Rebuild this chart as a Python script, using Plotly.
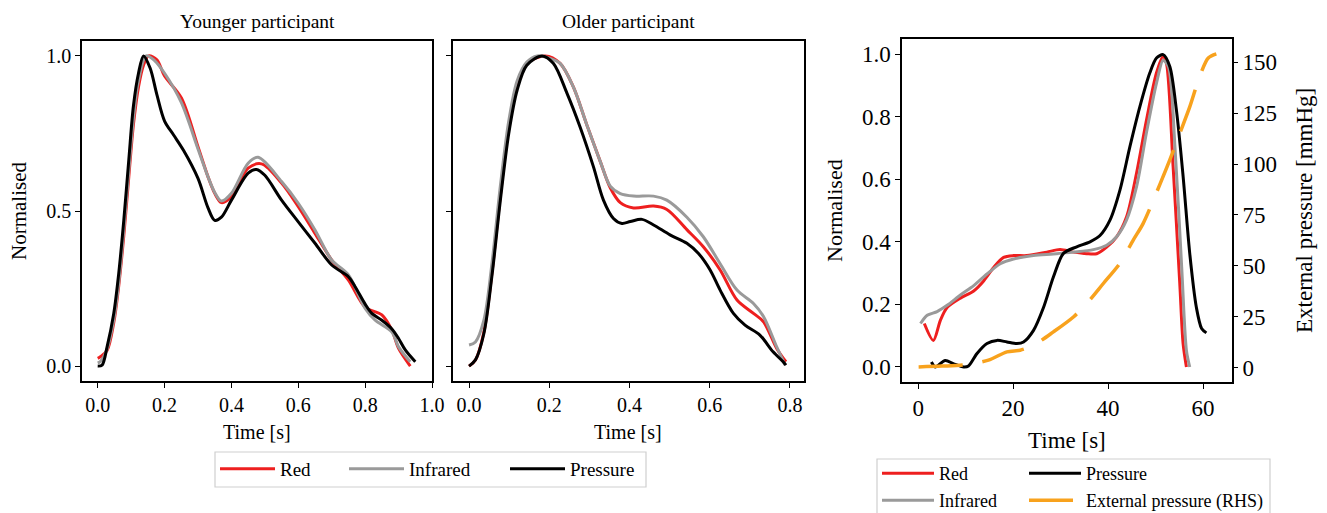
import plotly.graph_objects as go

W, H = 1327, 513

# ---------------- Data: Younger participant ----------------
young_red_t = [0.0, 0.008, 0.028, 0.048, 0.063, 0.078, 0.093, 0.107, 0.122, 0.137, 0.152, 0.177, 0.2, 0.25,
               0.3, 0.33, 0.35, 0.37, 0.4, 0.45, 0.49, 0.55, 0.6, 0.65, 0.7, 0.75, 0.8, 0.85, 0.88, 0.9, 0.935]
young_red_v = [0.025, 0.03, 0.05, 0.14, 0.26, 0.42, 0.61, 0.78, 0.9, 0.97, 1.0, 0.987, 0.935, 0.865,
               0.707, 0.61, 0.557, 0.527, 0.546, 0.638, 0.652, 0.59, 0.514, 0.428, 0.342, 0.277, 0.19, 0.165,
               0.116, 0.057, 0.0]
young_ir_t = [0.0, 0.008, 0.028, 0.048, 0.063, 0.078, 0.093, 0.107, 0.122, 0.145, 0.17, 0.2, 0.25, 0.3,
              0.33, 0.35, 0.37, 0.4, 0.45, 0.48, 0.55, 0.6, 0.65, 0.7, 0.75, 0.8, 0.83, 0.88, 0.9, 0.935]
young_ir_v = [0.01, 0.015, 0.055, 0.15, 0.27, 0.44, 0.63, 0.8, 0.92, 1.0, 0.985, 0.944, 0.85, 0.70,
              0.61, 0.56, 0.532, 0.557, 0.654, 0.673, 0.595, 0.525, 0.439, 0.342, 0.294, 0.186, 0.148, 0.11,
              0.062, 0.014]
young_pr_t = [0.0, 0.013, 0.028, 0.048, 0.063, 0.078, 0.093, 0.107, 0.122, 0.137, 0.157, 0.177, 0.2, 0.227,
              0.257, 0.3, 0.33, 0.35, 0.37, 0.4, 0.45, 0.475, 0.5, 0.55, 0.6, 0.65, 0.7, 0.75, 0.77, 0.8,
              0.82, 0.85, 0.88, 0.9, 0.92, 0.95]
young_pr_v = [0.0, 0.003, 0.062, 0.17, 0.30, 0.47, 0.665, 0.84, 0.944, 1.0, 0.96, 0.875, 0.79, 0.745,
              0.695, 0.605, 0.51, 0.47, 0.48, 0.535, 0.622, 0.634, 0.615, 0.535, 0.465, 0.396, 0.326, 0.288,
              0.256, 0.2, 0.17, 0.148, 0.12, 0.089, 0.052, 0.014]

# ---------------- Data: Older participant ----------------
old_red_t = [0.0, 0.016, 0.037, 0.057, 0.078, 0.099, 0.12, 0.144, 0.19, 0.227, 0.26, 0.293, 0.327, 0.352,
             0.377, 0.41, 0.46, 0.493, 0.543, 0.584, 0.626, 0.668, 0.709, 0.734, 0.767, 0.79]
old_red_v = [0.0, 0.02, 0.11, 0.30, 0.55, 0.77, 0.91, 0.975, 1.0, 0.976, 0.90, 0.78, 0.66, 0.575,
             0.527, 0.51, 0.516, 0.505, 0.44, 0.385, 0.31, 0.213, 0.17, 0.143, 0.057, 0.014]
old_ir_t = [0.0, 0.016, 0.037, 0.057, 0.078, 0.099, 0.12, 0.144, 0.17, 0.195, 0.227, 0.26, 0.293, 0.327,
            0.352, 0.377, 0.41, 0.46, 0.493, 0.543, 0.584, 0.626, 0.668, 0.709, 0.734, 0.767, 0.788]
old_ir_v = [0.068, 0.078, 0.148, 0.33, 0.58, 0.79, 0.92, 0.98, 1.0, 0.995, 0.976, 0.90, 0.78, 0.66,
            0.58, 0.556, 0.548, 0.548, 0.535, 0.48, 0.417, 0.33, 0.245, 0.202, 0.16, 0.062, 0.003]
old_pr_t = [0.0, 0.016, 0.037, 0.057, 0.078, 0.099, 0.12, 0.144, 0.182, 0.21, 0.244, 0.277, 0.31, 0.335,
            0.36, 0.381, 0.402, 0.431, 0.46, 0.501, 0.543, 0.572, 0.601, 0.626, 0.659, 0.688, 0.725, 0.758,
            0.783, 0.79]
old_pr_v = [0.0, 0.02, 0.105, 0.29, 0.534, 0.75, 0.89, 0.97, 1.0, 0.976, 0.88, 0.77, 0.643, 0.535,
            0.476, 0.46, 0.466, 0.473, 0.455, 0.423, 0.396, 0.363, 0.31, 0.245, 0.17, 0.132, 0.1, 0.046,
            0.014, 0.003]

# ---------------- Data: Cuff inflation ----------------
cuff_red_t = [1.3, 3.2, 4.7, 6.1, 8.9, 11.7, 13.8, 15.9, 18.0, 20.1, 22.9, 27.1, 29.9, 32.7, 35.5, 37.6,
              39.7, 41.8, 43.9, 46.0, 48.1, 50.2, 51.6, 52.3, 53.7, 55.1, 55.8, 56.5]
cuff_red_v = [0.139, 0.085, 0.15, 0.19, 0.22, 0.243, 0.275, 0.318, 0.35, 0.356, 0.356, 0.367, 0.375, 0.367,
              0.362, 0.362, 0.383, 0.416, 0.48, 0.62, 0.79, 0.94, 0.993, 0.97, 0.64, 0.267, 0.075, 0.0]
cuff_ir_t = [0.5, 1.9, 4.0, 6.1, 8.9, 11.7, 14.5, 17.3, 20.1, 24.3, 28.5, 32.7, 36.9, 39.7, 41.8, 43.9,
             46.0, 48.1, 50.2, 51.6, 52.7, 54.1, 55.5, 56.5, 57.2]
cuff_ir_v = [0.139, 0.165, 0.177, 0.197, 0.23, 0.26, 0.297, 0.33, 0.345, 0.356, 0.361, 0.367, 0.375, 0.389,
             0.416, 0.47, 0.576, 0.75, 0.907, 0.98, 0.96, 0.70, 0.32, 0.053, 0.0]
cuff_pr_t = [2.8, 3.6, 5.7, 7.5, 9.6, 10.6, 12.4, 14.5, 16.6, 18.7, 20.8, 22.2, 24.3, 26.4, 28.5, 30.6,
             33.4, 36.2, 38.3, 40.4, 42.5, 44.6, 46.7, 48.8, 50.2, 51.6, 53.0, 54.4, 55.8, 57.2, 58.6,
             59.7, 60.7]
cuff_pr_v = [0.016, 0.0, 0.021, 0.01, 0.0, 0.003, 0.043, 0.075, 0.085, 0.08, 0.075, 0.08, 0.117, 0.19,
             0.288, 0.363, 0.384, 0.40, 0.42, 0.469, 0.565, 0.704, 0.832, 0.94, 0.987, 0.998, 0.96, 0.82,
             0.61, 0.363, 0.19, 0.123, 0.109]
cuff_ext_t = [0.1, 5.0, 10.3, 14.8, 18.7, 21.5, 24.3, 28.5, 32.7, 35.5, 39.0, 42.5, 45.3, 47.4, 51.0,
              53.0, 55.1, 57.2, 59.3, 61.1, 62.8]
cuff_ext_v = [0.5, 0.9, 1.6, 3.8, 7.9, 8.7, 11.1, 17.7, 25.0, 31.6, 41.4, 51.3, 62.7, 70.9, 90.5,
              102.0, 115.0, 128.0, 143.0, 152.0, 154.0]

RED = "#ee1f1f"
GREY = "#9a9a9a"
BLACK = "#000000"
ORANGE = "#f8a21d"
FONT = "Liberation Serif"
LW = 3


def px_x(p):
    return p / W


def px_y(p):
    return 1 - p / H


fig = go.Figure()

# Panel 1 (each legend entry in its own legend box for exact placement)
for t, v, name, col, lg in [(young_red_t, young_red_v, "Red", RED, "legend"),
                            (young_ir_t, young_ir_v, "Infrared", GREY, "legend2"),
                            (young_pr_t, young_pr_v, "Pressure", BLACK, "legend3")]:
    fig.add_trace(go.Scatter(x=t, y=v, mode="lines", name=name, xaxis="x", yaxis="y",
                             line=dict(color=col, width=LW, shape="spline", smoothing=0.9),
                             legend=lg, showlegend=True))
# Panel 2
for t, v, name, col in [(old_red_t, old_red_v, "Red", RED),
                        (old_ir_t, old_ir_v, "Infrared", GREY),
                        (old_pr_t, old_pr_v, "Pressure", BLACK)]:
    fig.add_trace(go.Scatter(x=t, y=v, mode="lines", name=name, xaxis="x2", yaxis="y2",
                             line=dict(color=col, width=LW, shape="spline", smoothing=0.9),
                             showlegend=False))
# Panel 3
fig.add_trace(go.Scatter(x=cuff_ext_t, y=cuff_ext_v, mode="lines", name="External pressure (RHS)",
                         xaxis="x3", yaxis="y4",
                         line=dict(color=ORANGE, width=3.5, shape="spline", smoothing=0.8, dash="44px,20px"),
                         legend="legend7"))
for t, v, name, col, lg in [(cuff_red_t, cuff_red_v, "Red", RED, "legend4"),
                            (cuff_ir_t, cuff_ir_v, "Infrared", GREY, "legend5"),
                            (cuff_pr_t, cuff_pr_v, "Pressure", BLACK, "legend6")]:
    fig.add_trace(go.Scatter(x=t, y=v, mode="lines", name=name, xaxis="x3", yaxis="y3",
                             line=dict(color=col, width=LW, shape="spline", smoothing=0.8),
                             legend=lg))

axis_common = dict(showline=True, linecolor="black", linewidth=1.5, mirror=True, ticks="outside",
                   ticklen=5, tickwidth=1.3, tickcolor="black", showgrid=False, zeroline=False)
f_small = dict(family=FONT, size=20, color="black")
f_big = dict(family=FONT, size=23, color="black")


def leg(x, y, size, iw):
    return dict(orientation="h", x=px_x(x), y=px_y(y), xanchor="left", yanchor="top",
                font=dict(family=FONT, size=size, color="black"), borderwidth=0,
                bgcolor="rgba(0,0,0,0)", itemwidth=iw)


y12_dom = [px_y(381), px_y(41)]
fig.update_layout(
    width=W, height=H,
    margin=dict(l=0, r=0, t=0, b=0, autoexpand=False),
    paper_bgcolor="white", plot_bgcolor="white",
    font=dict(family=FONT, color="black"),
    xaxis=dict(domain=[px_x(82), px_x(432)], range=[-0.047, 1.0], tickvals=[0, 0.2, 0.4, 0.6, 0.8, 1.0],
               tickformat=".1f", tickfont=f_small, anchor="y", **axis_common),
    yaxis=dict(domain=y12_dom, range=[-0.048, 1.048], tickvals=[0, 0.5, 1.0], tickformat=".1f",
               tickfont=f_small, anchor="x", **axis_common),
    xaxis2=dict(domain=[px_x(453), px_x(804)], range=[-0.04, 0.835], tickvals=[0, 0.2, 0.4, 0.6, 0.8],
                tickformat=".1f", tickfont=f_small, anchor="y2", **axis_common),
    yaxis2=dict(domain=y12_dom, range=[-0.048, 1.048], tickvals=[0, 0.5, 1.0], showticklabels=False,
                anchor="x2", **axis_common),
    xaxis3=dict(domain=[px_x(902), px_x(1232)], range=[-3.4, 66.1], tickvals=[0, 20, 40, 60],
                tickfont=f_big, anchor="y3", **axis_common),
    yaxis3=dict(domain=[px_y(382), px_y(39)], range=[-0.048, 1.048], tickvals=[0, 0.2, 0.4, 0.6, 0.8, 1.0],
                tickformat=".1f", tickfont=f_big, anchor="x3", **axis_common),
    yaxis4=dict(domain=[px_y(382), px_y(39)], range=[-6.9, 161.3], tickvals=[0, 25, 50, 75, 100, 125, 150],
                tickfont=f_big, anchor="x3", overlaying="y3", side="right",
                showline=False, ticks="outside", ticklen=5, tickwidth=1.3, tickcolor="black",
                showgrid=False, zeroline=False),
    legend=leg(215, 450, 19, 55),
    legend2=leg(344, 450, 19, 55),
    legend3=leg(505, 450, 19, 55),
    legend4=leg(877, 455, 18, 52),
    legend5=leg(877, 482, 18, 52),
    legend6=leg(1024, 455, 18, 52),
    legend7=leg(1024, 482, 18, 52),
)

# legend frames
fig.add_shape(type="rect", xref="paper", yref="paper", x0=px_x(215), x1=px_x(646), y0=px_y(487), y1=px_y(452),
              line=dict(color="#cfcfcf", width=1.2), fillcolor="rgba(0,0,0,0)", layer="below")
fig.add_shape(type="rect", xref="paper", yref="paper", x0=px_x(877), x1=px_x(1270), y0=px_y(525), y1=px_y(459),
              line=dict(color="#cfcfcf", width=1.2), fillcolor="rgba(0,0,0,0)", layer="below")

annotations = [
    ("Younger participant", 257, 21, 0, 19.5),
    ("Older participant", 628, 21, 0, 19.5),
    ("Time [s]", 257, 432, 0, 20),
    ("Time [s]", 628, 432, 0, 20),
    ("Normalised", 19, 211, -90, 21),
    ("Time [s]", 1067, 440, 0, 23),
    ("Normalised", 835, 211, -90, 22),
    ("External pressure [mmHg]", 1305, 211, -90, 23),
]
for text, x, y, ang, size in annotations:
    fig.add_annotation(text=text, x=px_x(x), y=px_y(y), xref="paper", yref="paper", showarrow=False,
                       textangle=ang, xanchor="center", yanchor="middle",
                       font=dict(family=FONT, size=size, color="black"))

fig.write_html("out.html", config={"displayModeBar": False},
               post_script="document.body.style.margin='0';document.body.style.overflow='hidden';")
